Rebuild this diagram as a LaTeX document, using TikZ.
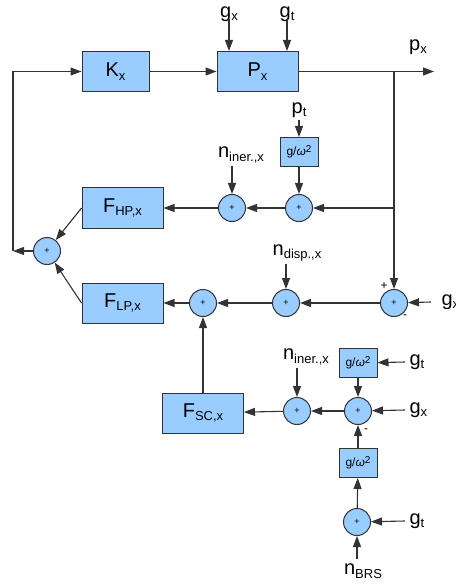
\documentclass[tikz,border=0pt]{standalone}
\usepackage{fontspec}
\setmainfont{Liberation Sans}
\usetikzlibrary{arrows.meta}
\definecolor{blockfill}{HTML}{99CCFF}
\definecolor{linegray}{HTML}{333333}
% subscript in the block and signal labels
\newcommand\sbs[1]{\raisebox{-0.35ex}{\fontsize{13}{13}\selectfont #1}}
\newcommand\gw{g/\textit{ω}\raisebox{0.55ex}{\fontsize{10}{10}\selectfont 2}}
\begin{document}
\begin{tikzpicture}[x=1pt,y=-1pt,
  line width=1.1pt, color=linegray,
  blk/.style={draw=linegray, fill=blockfill, line width=1pt, minimum width=81pt,
    minimum height=40pt, inner sep=0pt, text=black, font=\fontsize{20}{20}\selectfont},
  gblk/.style={draw=linegray, fill=blockfill, line width=1pt, minimum width=38pt,
    minimum height=29pt, inner sep=0pt, text=black, font=\fontsize{12}{12}\selectfont},
  sum/.style={circle, draw=linegray, fill=blockfill, line width=1pt,
    minimum size=27pt, inner sep=0pt, text=black, font=\fontsize{9}{9}\selectfont},
  sig/.style={inner sep=0pt, text=black, font=\fontsize{20}{20}\selectfont},
  sgn/.style={inner sep=0pt, text=black, font=\fontsize{12}{12}\selectfont},
  arr/.style={-{Triangle[length=11pt,width=8pt]}, draw=linegray}
]
\useasboundingbox (0,0) rectangle (455,585);

% forward path
\node[blk, minimum width=67pt] (K) at (115.5,71.5) {K\sbs{x}};
\node[blk] (P) at (257.5,71.5) {P\sbs{x}};
\node[sig] (gxP) at (229,14) {g\sbs{x}};
\node[sig] (gtP) at (287,14) {g\sbs{t}};
\node[sig] (px) at (418,47) {p\sbs{x}};
\coordinate (out) at (394,71.5);
\coordinate (outend) at (434,71.5);

% high-pass branch
\node[blk] (FHP) at (122.5,208) {F\sbs{HP,x}};
\node[sum] (sI) at (232,208) {+};
\node[sum] (sP) at (299,208) {+};
\node[gblk] (G1) at (299,152) {\gw};
\node[sig] (pt) at (299,110) {p\sbs{t}};
\node[sig] (ni1) at (241,155) {n\sbs{iner.,x}};
\coordinate (br1) at (394,208);

% combining sum and feedback loop
\node[sum] (sL) at (47,251) {+};
\coordinate (corner) at (13,251);

% low-pass branch
\node[blk] (FLP) at (122.5,303) {F\sbs{LP,x}};
\node[sum] (sLP) at (203,303) {+};
\node[sum] (sD) at (286,303) {+};
\node[sum] (sR) at (394,303) {+};
\node[sig] (nd) at (297,253) {n\sbs{disp.,x}};
\node[sig, anchor=west] (gxR) at (441,302) {g\sbs{x}};
\node[sgn] at (384,286) {+};
\node[sgn] at (405,317) {-};

% sensor-correction branch
\node[blk] (FSC) at (203,413) {F\sbs{SC,x}};
\node[sum] (sC1) at (297,411) {+};
\node[sum] (sC2) at (358,411) {+};
\node[gblk] (G2) at (358,363) {\gw};
\node[gblk] (G3) at (358,463) {\gw};
\node[sum] (sB) at (357,522) {+};
\node[sig] (ni2) at (306,357) {n\sbs{iner.,x}};
\node[sig, anchor=west] (gt2) at (409,362) {g\sbs{t}};
\node[sig, anchor=west] (gx2) at (409,410) {g\sbs{x}};
\node[sig, anchor=west] (gt3) at (409,521) {g\sbs{t}};
\node[sig] (nbrs) at (363,571) {n\sbs{BRS}};
\node[sgn] at (366,431) {-};

% connectors: forward path
\draw[arr] (K) -- (P);
\draw[arr] (P) -- (outend);
\draw[arr] ([yshift=3pt]gxP.south) -- (gxP.south |- P.north);
\draw[arr] ([yshift=3pt]gtP.south) -- (gtP.south |- P.north);
\draw (out) -- (br1);
\draw[arr] (br1) -- (sR);

% connectors: high-pass branch
\draw[arr] (br1) -- (sP);
\draw[arr] (sP) -- (sI);
\draw[arr] (sI) -- (FHP);
\draw[arr] ([yshift=-2pt]pt.south) -- (G1);
\draw[arr] (G1) -- (sP);
\draw[arr] ([yshift=-2pt]sI |- ni1.south) -- (sI);
\draw[arr] (FHP.west) -- (sL);

% connectors: summation and loop
\draw[arr] (FLP.west) -- (sL);
\draw[arr] (sL) -- (corner);
\draw[arr] (corner) -- (corner |- out) -- (K);

% connectors: low-pass branch
\draw[arr] (sR) -- (sD);
\draw[arr] (sD) -- (sLP);
\draw[arr] (sLP) -- (FLP);
\draw[arr] ([yshift=-2pt]sD |- nd.south) -- (sD);
\draw[arr] ([xshift=-10pt]gxR.west) -- (sR);

% connectors: sensor correction
\draw[arr] (FSC.north) -- (sLP);
\draw[arr] (sC2) -- (sC1);
\draw[arr] (sC1) -- (FSC);
\draw[arr] ([yshift=-2pt]sC1 |- ni2.south) -- (sC1);
\draw[arr] (G2) -- (sC2);
\draw[arr] ([xshift=-4pt]gt2.west) -- (G2);
\draw[arr] ([xshift=-4pt]gx2.west) -- (sC2);
\draw[arr] (G3) -- (sC2);
\draw[arr] (sB) -- (G3);
\draw[arr] ([xshift=-4pt]gt3.west) -- (sB);
\draw[arr] ([yshift=4pt]sB |- nbrs.north) -- (sB);
\end{tikzpicture}
\end{document}
